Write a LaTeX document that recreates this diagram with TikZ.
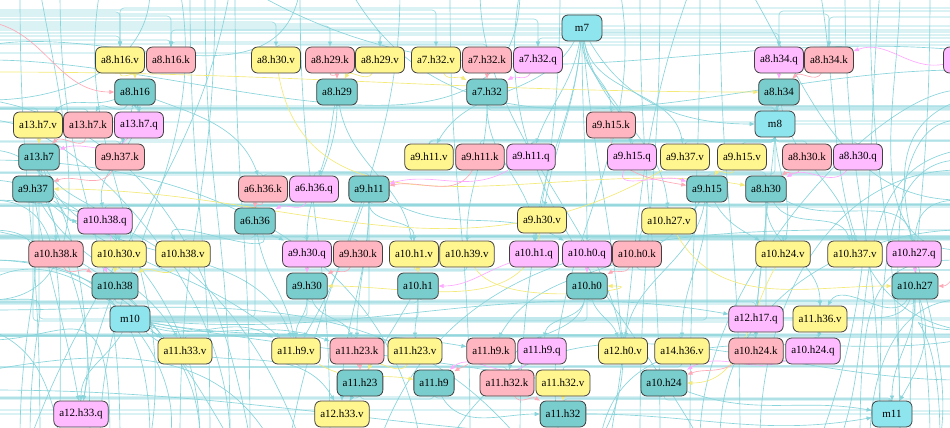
\documentclass[tikz,border=0pt]{standalone}
\usepackage{fontspec}
\setmainfont{Liberation Serif}
\usetikzlibrary{arrows.meta}
\definecolor{vcol}{HTML}{FFF68F}
\definecolor{kcol}{HTML}{FFB6C1}
\definecolor{qcol}{HTML}{FFBBFF}
\definecolor{hcol}{HTML}{79CDCD}
\definecolor{mcol}{HTML}{8EE5EE}
\definecolor{ecol}{HTML}{88D4DB}
\definecolor{yecol}{HTML}{F4EA78}
\definecolor{pecol}{HTML}{FFA8B6}
\definecolor{qecol}{HTML}{FFA8FF}
\definecolor{bdr}{HTML}{404040}
\pgfdeclarelayer{back}
\pgfdeclarelayer{bg}
\pgfsetlayers{back,bg,main}
\tikzset{
 nd/.style={draw=bdr, line width=0.8pt, rounded corners=6pt, minimum height=26pt, minimum width=40pt, inner xsep=5.5pt, inner ysep=0pt, font=\fontsize{11}{13}\selectfont},
 vnode/.style={nd, fill=vcol},
 knode/.style={nd, fill=kcol},
 qnode/.style={nd, fill=qcol},
 hnode/.style={nd, fill=hcol},
 mnode/.style={nd, fill=mcol},
 edge/.style={draw=ecol, line width=0.65pt, -{Triangle[length=5pt,width=4pt]}},
 run/.style={edge, rounded corners=4pt, draw opacity=0.85},
 thr/.style={draw=ecol, line width=0.65pt},
 ye/.style={edge, draw=yecol},
 pe/.style={edge, draw=pecol},
 qe/.style={edge, draw=qecol},
}
\begin{document}
\begin{tikzpicture}[x=1pt,y=-1pt]
\useasboundingbox (0,0) rectangle (950,428);
\begin{pgfonlayer}{back}
\fill[white] (0,0) rectangle (950,428);
\end{pgfonlayer}
\coordinate (Wl) at (-40,0);
\coordinate (Er) at (990,0);
\coordinate (pl1) at (-10,22);
\coordinate (yl1) at (-10,72);
\coordinate (pr1) at (965,272);
\foreach \n/\xa/\xb in {1/60/120,2/205/230,3/215/180,4/450/470,5/640/660,6/700/690,7/870/900,8/930/910,9/20/40,10/560/520,11/235/250,12/845/880,13/300/330,14/660/640,15/190/210,16/720/740}{
 \coordinate (t\n) at (\xa,-10);
 \coordinate (b\n) at (\xb,440);
}
\foreach \n/\ya/\xb in {1/150/90,2/200/60,3/260/150,4/300/30,5/180/200,6/340/110,7/230/20,8/120/230}{
 \coordinate (lc\n) at (-10,\ya);
 \coordinate (lb\n) at (\xb,440);
}
\foreach \n/\ya/\xb in {1/120/900,2/200/930,3/260/860,4/330/940,5/160/880,6/90/700,7/230/720}{
 \coordinate (rc\n) at (960,\ya);
 \coordinate (rb\n) at (\xb,440);
}
\begin{scope}
\clip (0,0) rectangle (950,428);
% row 60
\node[vnode] (a8h16v) at (120,60) {a8.h16.v};
\node[knode] (a8h16k) at (171,60) {a8.h16.k};
\node[vnode] (a8h30v) at (276,60) {a8.h30.v};
\node[knode] (a8h29k) at (330,60) {a8.h29.k};
\node[vnode] (a8h29v) at (380,60) {a8.h29.v};
\node[vnode] (a7h32v) at (436,60) {a7.h32.v};
\node[knode] (a7h32k) at (487,60) {a7.h32.k};
\node[qnode] (a7h32q) at (538,60) {a7.h32.q};
\node[mnode] (m7) at (582,28) {m7};
\node[qnode] (a8h34q) at (779,60) {a8.h34.q};
\node[knode] (a8h34k) at (829,60) {a8.h34.k};
\node[qnode, minimum width=49pt] (xq) at (968,60) {};
% row 92
\node[hnode] (a8h16) at (135,92) {a8.h16};
\node[hnode] (a8h29) at (337,92) {a8.h29};
\node[hnode] (a7h32) at (487,92) {a7.h32};
\node[hnode] (a8h34) at (779,92) {a8.h34};
% row 125
\node[vnode] (a13h7v) at (38,125) {a13.h7.v};
\node[knode] (a13h7k) at (88,125) {a13.h7.k};
\node[qnode] (a13h7q) at (139,125) {a13.h7.q};
\node[knode] (a9h15k) at (611,125) {a9.h15.k};
\node[mnode] (m8) at (775,124) {m8};
% row 157
\node[hnode] (a13h7) at (39,157) {a13.h7};
\node[knode] (a9h37k) at (120,157) {a9.h37.k};
\node[vnode] (a9h11v) at (429,157) {a9.h11.v};
\node[knode] (a9h11k) at (480,157) {a9.h11.k};
\node[qnode] (a9h11q) at (531,157) {a9.h11.q};
\node[qnode] (a9h15q) at (632,157) {a9.h15.q};
\node[vnode] (a9h37v) at (685,157) {a9.h37.v};
\node[vnode] (a9h15v) at (742,157) {a9.h15.v};
\node[knode] (a8h30k) at (807,157) {a8.h30.k};
\node[qnode] (a8h30q) at (858,157) {a8.h30.q};
% row 189
\node[hnode] (a9h37) at (33,189) {a9.h37};
\node[knode] (a6h36k) at (263,189) {a6.h36.k};
\node[qnode] (a6h36q) at (314,189) {a6.h36.q};
\node[hnode] (a9h11) at (369,189) {a9.h11};
\node[hnode] (a9h15) at (707,189) {a9.h15};
\node[hnode] (a8h30) at (766,189) {a8.h30};
% row 221
\node[qnode] (a10h38q) at (105,221) {a10.h38.q};
\node[hnode] (a6h36) at (255,221) {a6.h36};
\node[vnode] (a9h30v) at (542,220) {a9.h30.v};
\node[vnode] (a10h27v) at (669,221) {a10.h27.v};
% row 254
\node[knode] (a10h38k) at (56,254) {a10.h38.k};
\node[vnode] (a10h30v) at (119,254) {a10.h30.v};
\node[vnode] (a10h38v) at (183,254) {a10.h38.v};
\node[qnode] (a9h30q) at (307,254) {a9.h30.q};
\node[knode] (a9h30k) at (358,254) {a9.h30.k};
\node[vnode] (a10h1v) at (414,254) {a10.h1.v};
\node[vnode] (a10h39v) at (467,254) {a10.h39.v};
\node[qnode] (a10h1q) at (534,254) {a10.h1.q};
\node[qnode] (a10h0q) at (587,254) {a10.h0.q};
\node[knode] (a10h0k) at (637,254) {a10.h0.k};
\node[vnode] (a10h24v) at (783,254) {a10.h24.v};
\node[vnode] (a10h37v) at (855,254) {a10.h37.v};
\node[qnode] (a10h27q) at (914,254) {a10.h27.q};
% row 286
\node[hnode] (a10h38) at (115,286) {a10.h38};
\node[hnode] (a9h30) at (307,286) {a9.h30};
\node[hnode] (a10h1) at (418,286) {a10.h1};
\node[hnode] (a10h0) at (587,286) {a10.h0};
\node[hnode] (a10h27) at (915,286) {a10.h27};
% row 319
\node[mnode] (m10) at (130,319) {m10};
\node[qnode] (a12h17q) at (756,319) {a12.h17.q};
\node[vnode] (a11h36v) at (820,319) {a11.h36.v};
% row 351
\node[vnode] (a11h33v) at (185,351) {a11.h33.v};
\node[vnode] (a11h9v) at (296,351) {a11.h9.v};
\node[knode] (a11h23k) at (357,351) {a11.h23.k};
\node[vnode] (a11h23v) at (415,351) {a11.h23.v};
\node[knode] (a11h9k) at (491,351) {a11.h9.k};
\node[qnode] (a11h9q) at (542,351) {a11.h9.q};
\node[vnode] (a12h0v) at (623,351) {a12.h0.v};
\node[vnode] (a14h36v) at (682,351) {a14.h36.v};
\node[knode] (a10h24k) at (756,351) {a10.h24.k};
\node[qnode] (a10h24q) at (813,351) {a10.h24.q};
% row 383
\node[hnode] (a11h23) at (360,383) {a11.h23};
\node[hnode] (a11h9) at (434,383) {a11.h9};
\node[knode] (a11h32k) at (507,383) {a11.h32.k};
\node[vnode] (a11h32v) at (563,383) {a11.h32.v};
\node[hnode] (a10h24) at (664,383) {a10.h24};
% row 414
\node[qnode] (a12h33q) at (81,414) {a12.h33.q};
\node[vnode] (a12h33v) at (342,414) {a12.h33.v};
\node[hnode] (a11h32) at (563,414) {a11.h32};
\node[mnode] (m11) at (892,414) {m11};
\end{scope}

\begin{pgfonlayer}{bg}
\begin{scope}
\clip (0,0) rectangle (950,428);
% through lines
\foreach \n in {1,...,16}{
 \draw[thr] (t\n) .. controls +(0,220) and +(0,-220) .. (b\n);
}
\foreach \n in {1,...,8}{
 \draw[thr] (lc\n) .. controls +(80,0) and +(0,-160) .. (lb\n);
}
\foreach \n in {1,...,7}{
 \draw[thr] (rc\n) .. controls +(-80,0) and +(0,-160) .. (rb\n);
}
\foreach \n/\xa/\ya/\xb/\yb/\o/\i in {
1/-10/260/200/440/0/90, 2/-10/330/60/440/-20/100, 3/-10/370/270/440/10/120, 4/40/-10/-10/300/-80/0, 5/100/-10/150/440/-100/80,
6/-10/200/300/440/0/110, 7/-10/280/170/440/30/80, 9/480/-10/600/440/-90/60, 10/-10/390/700/440/0/180, 11/960/380/450/440/180/60,
12/960/340/600/440/190/80, 13/620/-10/560/440/-80/100, 14/520/-10/700/440/-100/120, 15/960/100/940/440/200/80, 16/960/300/870/440/180/90,
17/900/-10/960/250/-90/180, 18/820/-10/960/330/-80/170, 19/960/150/840/440/190/70, 20/750/-10/960/200/-60/180, 21/-10/45/300/-10/10/-100,
22/-10/60/520/-10/0/-90, 23/350/-10/960/70/-60/180, 24/150/-10/-10/100/-90/0, 25/250/-10/960/50/-30/175, 26/-10/100/250/440/-10/100,
27/180/-10/100/440/-80/90, 28/230/-10/30/440/-100/70, 29/-10/160/420/440/0/100, 30/960/230/380/440/180/70, 31/690/-10/610/440/-110/80,
32/400/-10/290/440/-90/80, 33/-10/230/230/440/-10/120, 34/960/170/760/440/180/90, 35/880/-10/820/440/-95/70, 36/-10/310/520/440/0/130}{
 \coordinate (ws\n) at (\xa,\ya);
 \coordinate (we\n) at (\xb,\yb);
 \draw[thr] (ws\n) to[out=\o,in=\i] (we\n);
}
% horizontal runs
\foreach \a/\b/\y in {
Wl/a8h16v/12, Wl/a8h16v/36, Wl/a8h16k/16, Wl/a8h16k/40, Wl/a8h30v/53, Wl/a8h30v/22, Wl/a8h29k/26, Wl/a8h29v/30, Wl/a7h32v/10, Wl/m7/28, Wl/m7/24, Wl/a7h32k/44, Wl/a7h32q/19, Wl/a8h34q/33, Wl/a8h34k/14,
Er/a8h34q/11, Er/a8h34k/17, Er/m7/32, Er/m7/26, Er/a8h16k/42, Er/a8h16v/8, Er/a8h30v/45, Er/xq/21, Er/a7h32q/38, Er/a8h29v/35, Er/a8h16k/30,
a8h16/m8/108, a8h16/Wl/107, a8h16/Wl/109, a8h16/Er/106, a8h16/Er/110, a8h29/m8/107, a8h29/Wl/109, a7h32/m8/110, a7h32/Er/107, a8h34/Er/106, a8h34/Wl/108, a8h34/m8/109,
Er/m8/124, Er/m8/121, Wl/m8/122,
Wl/a13h7v/108, Wl/a13h7k/109, Er/a13h7q/108, Er/a9h15k/109,
m8/a9h11v/141, m8/a9h11k/140, m8/a9h11q/142, m8/a9h15q/140, m8/a9h37v/141, m8/a9h15v/142, m8/a8h30k/141, m8/a8h30q/142, m8/a9h37k/140, m8/Er/141, m8/Wl/142,
Wl/a9h37k/141, Er/a9h11v/140, Er/a9h11q/141,
Wl/a6h36k/173, Er/a6h36q/172, m8/a6h36k/174, a13h7/Er/173, a13h7/Er/175, Wl/a9h11/173, Er/a9h15/174, Wl/a8h30/172,
a9h37/Er/205, a9h11/Er/204, a9h11/Wl/206, a9h15/Wl/205, a9h15/Er/207, a8h30/Er/204, a8h30/Wl/206,
Er/a10h38q/205, Wl/a9h30v/204, Wl/a10h27v/206, Er/a6h36/205,
Wl/a10h38k/238, Wl/a10h30v/236, Er/a10h38v/239, Wl/a9h30q/237, Wl/a9h30k/239, Er/a10h1v/236, Er/a10h39v/237, Er/a10h1q/238, Er/a10h0q/239, Er/a10h0k/240, Wl/a10h24v/235, Wl/a10h37v/236, Wl/a10h27q/237, Er/a10h24v/238, a6h36/Er/237, a6h36/Wl/238, a10h38q/Er/236,
a10h30v/Er/270, a10h39v/Wl/271, a10h37v/Wl/269, a10h0k/Er/270,
a10h38/m10/303, a9h30/m10/317, a10h1/m10/319, a10h0/m10/321, a10h27/m10/318, a9h15/m10/320, a8h30/m10/322, a9h11/m10/316, a6h36/m10/317, a13h7/m10/319, a9h37/m10/321,
a10h38/Wl/302, a9h30/Er/302, a10h1/Wl/303, a10h0/Er/301, a10h27/Wl/304, a10h1/Er/300,
Wl/a12h17q/302, Wl/a11h36v/301, Er/m10/320, Er/m10/318,
Wl/a11h9v/334, Wl/a11h23k/336, Er/a11h23v/335, Er/a11h9k/337, Wl/a11h9q/336, Er/a12h0v/334, Wl/a14h36v/336, Wl/a10h24k/335, Er/a10h24q/337, Er/a11h33v/335, a12h17q/Wl/335, a11h36v/Wl/336,
a11h33v/Er/367, a11h9v/Er/366, Wl/a11h32k/367, Er/a11h32v/366, a14h36v/Wl/367,
a11h23/m11/399, a11h9/m11/398, a10h24/m11/400, a11h32/m11/414,
a11h23/Wl/398, a11h9/Wl/399, a10h24/Wl/397,
Wl/a12h33q/398, Wl/a12h33v/414, Er/a11h32/399, Er/m11/414, Er/m11/411, Wl/m11/410}{
 \draw[run] (\a) -- (\a |- 0,\y) -- (\b |- 0,\y) -- (\b);
}
% curved connectors
\foreach \a/\b/\o/\i in {
m7/a9h15k/-90/90, m7/a9h11q/-100/70, m7/a9h15q/-85/95, m7/a9h37v/-80/100, m7/a9h30v/-95/80, m7/a10h0q/-90/90, m7/a12h0v/-85/95, m7/a10h27v/-80/95, m7/m8/-60/180, m7/a9h11v/-120/60, m7/a10h1q/-95/85,
a8h16/a13h7v/-160/40, a8h16/a13h7k/-120/60, a8h16/a13h7q/-90/90, a8h16/a9h37k/-100/80, a8h16/a6h36k/-20/110, a8h29/a6h36q/-100/70, a8h16/a10h38q/-80/100, a8h29/a9h30q/-90/90, a8h29/a10h1v/-80/100, a7h32/a10h39v/-90/90, a7h32/a10h1q/-90/90, a8h34/a10h24v/-100/80, a8h34/a10h37v/-80/100, a8h34/a12h17q/-95/85,
a13h7/a10h38k/-90/90, a13h7/a10h30v/-60/100, a9h37/a10h38q/-30/180, a9h37/a12h33q/-80/100, a9h37/a11h33v/-60/120, a13h7/a11h9v/-70/110, a9h11/a10h1v/-90/90, a9h11/a11h23k/-90/90, a9h11/a11h9v/-110/60, a9h11/a12h33v/-90/90, a9h15/a10h24v/-60/150, a9h15/a11h9k/-120/60, a9h15/a14h36v/-90/90, a9h15/a12h0v/-100/80, a8h30/a10h37v/-60/110, a8h30/a11h36v/-90/90, a8h30/a10h24k/-90/90, a6h36/a10h38v/-60/120, a6h36/a11h9v/-80/100, a6h36/a9h30q/-40/150,
a10h38/a12h33q/-110/80, a10h38/a11h33v/-40/150, a9h30/a11h9v/-90/90, a9h30/a11h23k/-70/110, a10h1/a11h23v/-90/90, a10h1/a12h33v/-120/60, a10h0/a11h32k/-100/80, a10h0/a11h9q/-100/80, a10h0/a12h0v/-70/110, a10h27/a10h24q/-110/70, a10h27/m11/-90/90, a10h27/a11h36v/-120/60, a10h27/m11/-70/60,
m10/a11h33v/-30/150, m10/a11h9v/-20/150, m10/a11h23k/-15/160, m10/a11h9k/-10/170, m10/a12h33q/-120/90, m10/a11h32v/-10/170, m10/a12h33v/-40/120, m10/a12h17q/-5/170,
a11h23/a12h33v/-120/60, a11h9/a11h32/-60/180, a10h24/m11/-20/170, a11h32/m11/0/190,
a9h37/a11h9v/-40/140, a13h7/a12h33q/-80/80, a9h11/a10h0q/-30/150, a9h15/a10h0k/-120/80, a8h30/a10h27q/-30/100}{
 \draw[edge] (\a) to[out=\o,in=\i] (\b);
}
% coloured connectors
\foreach \a/\b/\o/\i in {a8h16v/a8h16/-90/90, a13h7v/a13h7/-90/90, a8h29v/a8h29/-120/60, a7h32v/a7h32/-60/150, a10h1v/a10h1/-90/90, a11h32v/a11h32/-90/90, a10h30v/a10h38/-90/90, a9h15v/a9h15/-120/60, a9h30v/a9h30/-100/0, a10h27v/a10h27/-60/180, a10h24v/a10h24/-120/0, a11h23v/a11h23/-120/60, a11h9v/a11h9/-30/170, a9h37v/a9h37/-150/0, a8h30v/a8h30/-80/170, a10h38v/a10h38/-120/30, yl1/a8h34/0/180, a10h39v/a10h0/-60/0}{
 \draw[ye] (\a) to[out=\o,in=\i] (\b);
}
\foreach \a/\b/\o/\i in {a13h7k/a13h7/-100/45, a8h29k/a8h29/-90/90, a7h32k/a7h32/-90/90, a8h34k/a8h34/-120/45, a9h11k/a9h11/-120/10, a9h15k/a9h15/-90/170, a9h37k/a9h37/-120/20, a6h36k/a6h36/-90/90, a9h30k/a9h30/-120/30, a10h0k/a10h0/-120/30, a10h38k/a10h38/-60/150, a11h23k/a11h23/-90/90, a11h9k/a11h9/-150/30, a11h32k/a11h32/-60/150, a10h24k/a10h24/-150/20, a8h30k/a8h30/-120/40, pl1/a8h16/-10/180, pr1/a10h27/180/0}{
 \draw[pe] (\a) to[out=\o,in=\i] (\b);
}
\foreach \a/\b/\o/\i in {a8h34q/a8h34/-90/90, a7h32q/a7h32/-120/30, a13h7q/a13h7/-130/20, a9h11q/a9h11/-150/15, a9h15q/a9h15/-120/160, a6h36q/a6h36/-120/30, a9h30q/a9h30/-90/90, a10h1q/a10h1/-160/0, a10h0q/a10h0/-90/90, a10h27q/a10h27/-90/90, a11h9q/a11h9/-140/40, a10h24q/a10h24/-160/30, a10h38q/a10h38/-70/120, a8h30q/a8h30/-130/30, xq/a8h34k/-170/20}{
 \draw[qe] (\a) to[out=\o,in=\i] (\b);
}
\end{scope}
\end{pgfonlayer}
\end{tikzpicture}
\end{document}
